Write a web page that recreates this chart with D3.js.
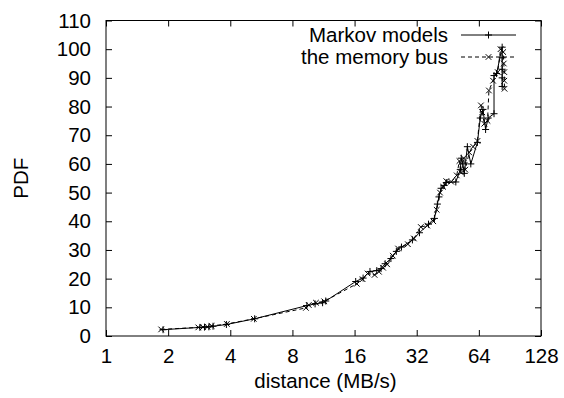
<!DOCTYPE html>
<html>
<head>
<meta charset="utf-8">
<script src="https://cdn.jsdelivr.net/npm/d3@7"></script>
<style>
  body { margin: 0; background: #fff; }
  text { font-family: "Liberation Sans", Arial, Helvetica, sans-serif; fill: #000; }
</style>
</head>
<body>
<div id="chart"></div>
<script>
// values
var xTicks = [1, 2, 4, 8, 16, 32, 64, 128];
var yTicks = [0, 10, 20, 30, 40, 50, 60, 70, 80, 90, 100, 110];

var markovName = "Markov models";
var markovX = [1.89, 2.85, 3.0, 3.15, 3.3, 3.83, 5.25, 9.4, 10.3, 11.2, 11.6, 16.2, 17.6, 19.0, 20.5, 21.5, 22.5, 24.0, 25.5, 27.0,
  30.5, 33.0, 36.5, 39.0, 40.3, 41.0, 42.0, 43.5, 44.5, 49.5, 52.0, 52.6, 53.5, 54.4, 56.3, 58.5, 63.0, 65.0, 67.0, 69.0,
  71.0, 75.8, 75.8, 78.0, 83.0, 83.0, 83.0, 83.0, 83.0];
var markovY = [2.2, 3.0, 3.1, 3.2, 3.4, 4.0, 6.0, 10.6, 11.2, 11.6, 12.2, 19.0, 20.2, 22.5, 22.8, 23.5, 25.2, 27.0, 29.5, 31.0,
  33.5, 36.0, 39.0, 41.0, 46.0, 48.5, 51.5, 52.5, 53.5, 53.7, 58.0, 62.0, 60.0, 56.7, 66.0, 60.0, 67.5, 76.0, 79.0, 72.0,
  76.0, 77.5, 90.8, 91.5, 100.7, 97.0, 93.0, 90.0, 87.0];

var busName = "the memory bus";
var busX = [1.85, 2.8, 2.95, 3.1, 3.25, 3.85, 5.2, 9.3, 9.6, 10.4, 11.4, 16.4, 17.5, 18.5, 20.0, 21.0, 22.0, 23.0, 24.5, 26.0,
  29.0, 31.0, 33.5, 36.0, 38.5, 40.0, 41.5, 43.0, 44.5, 47.0, 50.0, 51.5, 52.5, 54.0, 55.0, 57.5, 60.0, 63.0, 65.5, 66.5,
  68.0, 70.5, 71.6, 75.0, 79.0, 81.5, 84.0, 84.5, 85.0, 85.0, 85.2];
var busY = [2.3, 3.0, 3.1, 3.2, 3.5, 4.2, 6.0, 9.8, 10.8, 11.6, 12.1, 18.2, 19.8, 21.8, 21.3, 22.4, 23.8, 25.0, 28.0, 30.5,
  32.0, 34.0, 38.0, 38.5, 40.0, 44.0, 50.0, 52.0, 54.0, 53.8, 56.0, 61.0, 57.0, 62.0, 58.0, 64.0, 66.0, 68.0, 80.4, 78.0,
  74.0, 75.0, 85.6, 89.0, 92.0, 100.0, 99.0, 95.0, 92.0, 89.0, 86.2];

var width = 564, height = 398;
var plotLeft = 106, plotRight = 541, plotTop = 20.5, plotBottom = 336;
var fontSize = 20.5;

var svg = d3.select("#chart").append("svg").attr("width", width).attr("height", height);

var x = d3.scaleLog().base(2).domain([1, 128]).range([plotLeft, plotRight]);
var y = d3.scaleLinear().domain([0, 110]).range([plotBottom, plotTop]);

// axes with inward ticks, mirrored on top and right
var xAxis = d3.axisBottom(x).tickValues(xTicks).tickFormat(d3.format("d")).tickSizeInner(-6).tickSizeOuter(0).tickPadding(12);
var yAxis = d3.axisLeft(y).tickValues(yTicks).tickSizeInner(-6).tickSizeOuter(0).tickPadding(15);
var xTop = d3.axisTop(x).tickValues(xTicks).tickFormat("").tickSizeInner(-6).tickSizeOuter(0);
var yRight = d3.axisRight(y).tickValues(yTicks).tickFormat("").tickSizeInner(-6).tickSizeOuter(0);

function styleAxis(g) {
  g.select(".domain").remove();
  g.selectAll("line").attr("stroke", "#000");
  g.selectAll("text").attr("font-size", fontSize).attr("font-family", null);
}

svg.append("g").attr("transform", "translate(0," + plotBottom + ")").call(xAxis).call(styleAxis);
svg.append("g").attr("transform", "translate(" + plotLeft + ",0)").call(yAxis).call(styleAxis);
svg.append("g").attr("transform", "translate(0," + plotTop + ")").call(xTop).call(styleAxis);
svg.append("g").attr("transform", "translate(" + plotRight + ",0)").call(yRight).call(styleAxis);

svg.append("rect")
  .attr("x", plotLeft).attr("y", plotTop)
  .attr("width", plotRight - plotLeft).attr("height", plotBottom - plotTop)
  .attr("fill", "none").attr("stroke", "#000").attr("stroke-width", 1);

// axis titles
svg.append("text")
  .attr("x", (plotLeft + plotRight) / 2 + 2).attr("y", 388)
  .attr("text-anchor", "middle").attr("font-size", fontSize)
  .text("distance (MB/s)");

svg.append("text")
  .attr("transform", "translate(28," + ((plotTop + plotBottom) / 2) + ")rotate(-90)")
  .attr("text-anchor", "middle").attr("font-size", fontSize)
  .text("PDF");

// series
var markov = markovX.map(function(d, i) { return [d, markovY[i]]; });
var bus = busX.map(function(d, i) { return [d, busY[i]]; });

var line = d3.line()
  .x(function(d) { return x(d[0]); })
  .y(function(d) { return y(d[1]); });

var ms = 3.5;
function plus(g, px, py) {
  g.append("path")
    .attr("d", "M" + (px - ms) + "," + py + "H" + (px + ms) + "M" + px + "," + (py - ms) + "V" + (py + ms))
    .attr("stroke", "#000").attr("stroke-width", 1).attr("fill", "none");
}
function cross(g, px, py) {
  var s = ms * 0.8;
  g.append("path")
    .attr("d", "M" + (px - s) + "," + (py - s) + "L" + (px + s) + "," + (py + s) +
               "M" + (px - s) + "," + (py + s) + "L" + (px + s) + "," + (py - s))
    .attr("stroke", "#000").attr("stroke-width", 1).attr("fill", "none");
}

var gMarkov = svg.append("g");
gMarkov.append("path").datum(markov).attr("d", line)
  .attr("fill", "none").attr("stroke", "#000").attr("stroke-width", 1);
markov.forEach(function(d) { plus(gMarkov, x(d[0]), y(d[1])); });

var gBus = svg.append("g");
gBus.append("path").datum(bus).attr("d", line)
  .attr("fill", "none").attr("stroke", "#000").attr("stroke-width", 1).attr("stroke-dasharray", "4,3");
bus.forEach(function(d) { cross(gBus, x(d[0]), y(d[1])); });

// legend
var legend = svg.append("g");
var rows = [
  { name: markovName, y: 35, dash: null, mark: plus },
  { name: busName, y: 57, dash: "4,3", mark: cross }
];
rows.forEach(function(r) {
  legend.append("text")
    .attr("x", 448).attr("y", r.y).attr("dy", "0.35em")
    .attr("text-anchor", "end").attr("font-size", fontSize)
    .text(r.name);
  legend.append("line")
    .attr("x1", 461).attr("x2", 516).attr("y1", r.y).attr("y2", r.y)
    .attr("stroke", "#000").attr("stroke-width", 1)
    .attr("stroke-dasharray", r.dash);
  r.mark(legend, 488.5, r.y);
});
</script>
</body>
</html>
